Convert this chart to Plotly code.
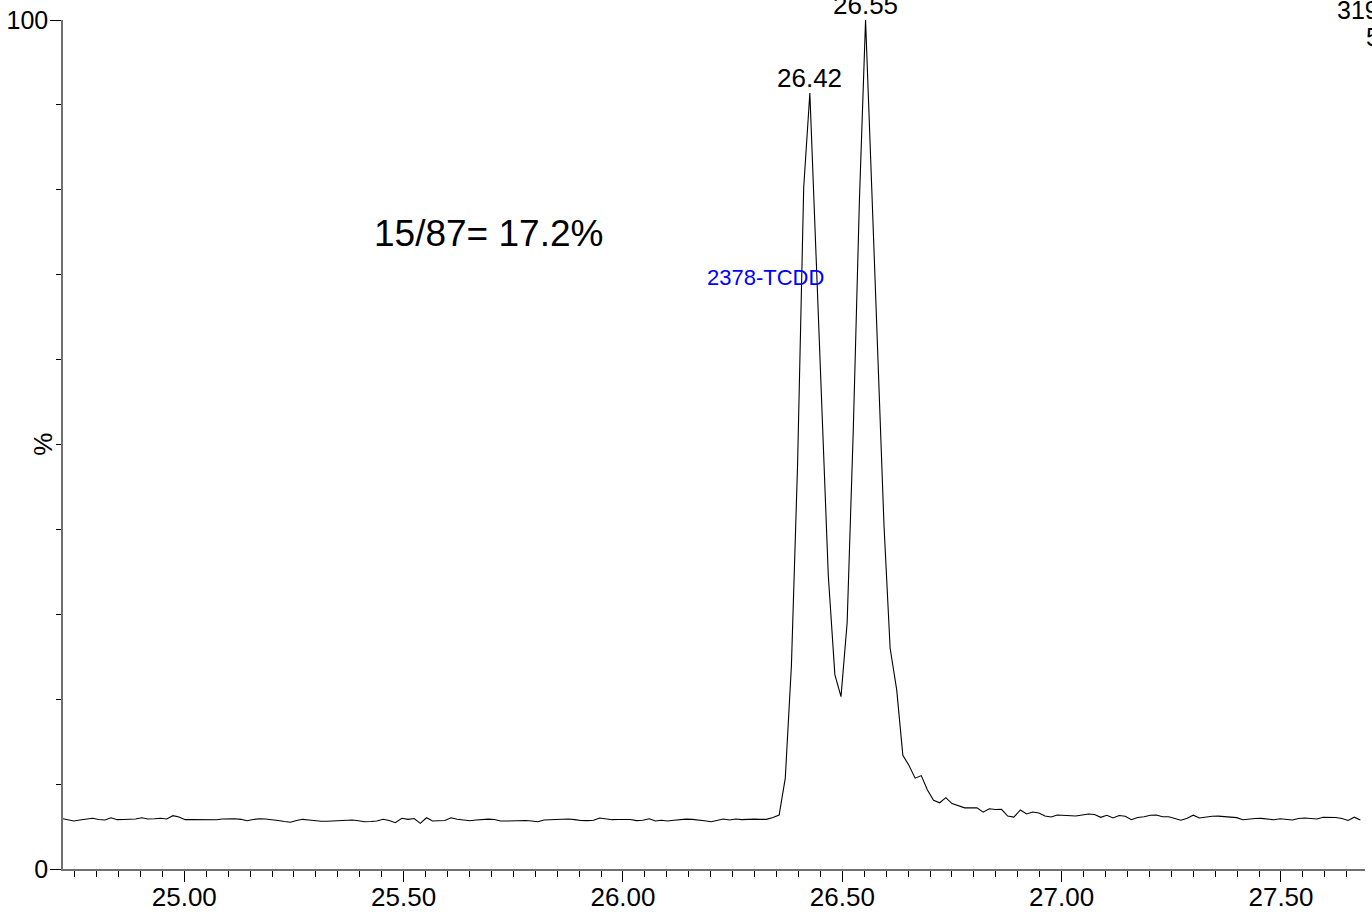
import plotly.graph_objects as go

# Retention time (min) of each scan
times = [
    24.720, 24.734, 24.748, 24.762, 24.776, 24.791, 24.805, 24.819, 24.833, 24.847,
    24.861, 24.875, 24.889, 24.903, 24.917, 24.932, 24.946, 24.960, 24.974, 24.988,
    25.002, 25.016, 25.030, 25.044, 25.058, 25.073, 25.087, 25.101, 25.115, 25.129,
    25.143, 25.157, 25.171, 25.185, 25.199, 25.214, 25.228, 25.242, 25.256, 25.270,
    25.284, 25.298, 25.312, 25.326, 25.340, 25.355, 25.369, 25.383, 25.397, 25.411,
    25.425, 25.439, 25.453, 25.467, 25.481, 25.496, 25.510, 25.524, 25.538, 25.552,
    25.566, 25.580, 25.594, 25.608, 25.622, 25.637, 25.651, 25.665, 25.679, 25.693,
    25.707, 25.721, 25.735, 25.749, 25.763, 25.778, 25.792, 25.806, 25.820, 25.834,
    25.848, 25.862, 25.876, 25.890, 25.904, 25.919, 25.933, 25.947, 25.961, 25.975,
    25.989, 26.003, 26.017, 26.031, 26.045, 26.060, 26.074, 26.088, 26.102, 26.116,
    26.130, 26.144, 26.158, 26.172, 26.186, 26.201, 26.215, 26.229, 26.243, 26.257,
    26.271, 26.285, 26.299, 26.313, 26.327, 26.342, 26.356, 26.370, 26.384, 26.398,
    26.412, 26.426, 26.440, 26.454, 26.468, 26.483, 26.497, 26.511, 26.525, 26.539,
    26.553, 26.567, 26.581, 26.595, 26.609, 26.624, 26.638, 26.652, 26.666, 26.680,
    26.694, 26.708, 26.722, 26.736, 26.750, 26.765, 26.779, 26.793, 26.807, 26.821,
    26.835, 26.849, 26.863, 26.877, 26.891, 26.906, 26.920, 26.934, 26.948, 26.962,
    26.976, 26.990, 27.004, 27.018, 27.032, 27.047, 27.061, 27.075, 27.089, 27.103,
    27.117, 27.131, 27.145, 27.159, 27.173, 27.188, 27.202, 27.216, 27.230, 27.244,
    27.258, 27.272, 27.286, 27.300, 27.314, 27.329, 27.343, 27.357, 27.371, 27.385,
    27.399, 27.413, 27.427, 27.441, 27.455, 27.470, 27.484, 27.498, 27.512, 27.526,
    27.540, 27.554, 27.568, 27.582, 27.596, 27.611, 27.625, 27.639, 27.653, 27.667,
    27.681,
]

# Relative intensity (%)
intensity = [
    5.95, 5.77, 5.65, 5.77, 5.89, 5.97, 5.83, 5.77, 6.04, 5.81,
    5.83, 5.85, 5.89, 6.04, 5.89, 5.92, 5.97, 5.89, 6.28, 6.12,
    5.81, 5.81, 5.81, 5.80, 5.77, 5.80, 5.89, 5.92, 5.92, 5.85,
    5.69, 5.83, 5.92, 5.89, 5.83, 5.71, 5.59, 5.50, 5.71, 5.85,
    5.77, 5.68, 5.62, 5.63, 5.65, 5.68, 5.71, 5.77, 5.68, 5.57,
    5.59, 5.65, 5.85, 5.71, 5.45, 5.97, 5.85, 5.95, 5.38, 6.04,
    5.65, 5.65, 5.71, 6.03, 5.85, 5.77, 5.69, 5.77, 5.83, 5.87,
    5.83, 5.65, 5.65, 5.69, 5.75, 5.71, 5.65, 5.57, 5.77, 5.80,
    5.83, 5.87, 5.89, 5.81, 5.71, 5.70, 5.74, 6.01, 5.89, 5.81,
    5.83, 5.87, 5.83, 5.70, 5.74, 5.92, 5.65, 5.74, 5.65, 5.75,
    5.84, 5.88, 5.84, 5.80, 5.69, 5.57, 5.74, 5.89, 5.77, 5.89,
    5.81, 5.88, 5.87, 5.85, 5.85, 6.07, 6.36, 10.7, 24.0, 47.6,
    80.3, 91.4, 72.9, 53.5, 34.6, 22.9, 20.3, 29.0, 51.7, 78.8,
    100.0, 80.3, 59.2, 40.5, 26.0, 21.1, 13.4, 12.2, 10.7, 11.0,
    9.3, 8.1, 7.8, 8.4, 7.7, 7.4, 7.2, 7.2, 7.2, 6.7,
    7.1, 7.01, 7.03, 6.24, 6.12, 6.95, 6.48, 6.71, 6.60, 6.24,
    6.12, 6.36, 6.33, 6.29, 6.24, 6.36, 6.48, 6.42, 6.09, 6.33,
    6.01, 6.30, 6.21, 5.80, 6.07, 6.15, 6.33, 6.36, 6.16, 6.16,
    5.95, 5.75, 5.97, 6.34, 6.01, 6.12, 6.21, 6.23, 6.16, 6.12,
    6.05, 5.80, 5.89, 5.95, 5.96, 5.85, 5.80, 5.91, 5.80, 5.77,
    5.94, 6.00, 5.95, 5.89, 6.10, 6.08, 6.07, 5.95, 5.71, 6.10,
    5.77,
]

peak_label_times = [26.426, 26.553]
peak_label_values = [91.4, 100.0]
peak_labels = ["26.42", "26.55"]

compound_name = "2378-TCDD"
ratio_text = "15/87= 17.2%"
header_lines = ["319.8965", "5.48e4"]

FONT = "Arial, Liberation Sans, sans-serif"

fig = go.Figure()
fig.add_trace(go.Scatter(
    x=times, y=intensity, mode="lines",
    line=dict(color="#000000", width=1.1),
    hoverinfo="x+y", showlegend=False,
))

annotations = []
for t, v, lab in zip(peak_label_times, peak_label_values, peak_labels):
    annotations.append(dict(
        x=t, y=v, xref="x", yref="y", text=lab, showarrow=False,
        xanchor="center", yanchor="bottom", yshift=-2,
        font=dict(family=FONT, size=26, color="#000000"),
    ))

annotations.append(dict(
    x=26.325, y=69.7, xref="x", yref="y", text=compound_name, showarrow=False,
    xanchor="center", yanchor="middle",
    font=dict(family=FONT, size=22, color="#0000FF"),
))
annotations.append(dict(
    x=25.693, y=74.9, xref="x", yref="y", text=ratio_text, showarrow=False,
    xanchor="center", yanchor="middle",
    font=dict(family=FONT, size=37, color="#000000"),
))
annotations.append(dict(
    x=-0.016, y=0.5, xref="paper", yref="paper", text="%", showarrow=False,
    textangle=-90, xanchor="center", yanchor="middle",
    font=dict(family=FONT, size=26, color="#000000"),
))
annotations.append(dict(
    x=(1335 - 63) / 1302, y=1.0, xref="paper", yref="paper", text=header_lines[0],
    showarrow=False, xanchor="left", yanchor="bottom", yshift=-6,
    font=dict(family=FONT, size=25, color="#000000"),
))
annotations.append(dict(
    x=(1364 - 63) / 1302, y=1.0, xref="paper", yref="paper", text=header_lines[1],
    showarrow=False, xanchor="left", yanchor="top", yshift=-1,
    font=dict(family=FONT, size=25, color="#000000"),
))

fig.update_layout(
    width=1372, height=916,
    margin=dict(l=63, r=7, t=20, b=47, pad=0),
    paper_bgcolor="#FFFFFF", plot_bgcolor="#FFFFFF",
    font=dict(family=FONT, size=26, color="#000000"),
    annotations=annotations,
    xaxis=dict(
        range=[24.7235, 27.6915], showgrid=False, zeroline=False,
        showline=True, linecolor="#707070", linewidth=1.5,
        ticks="outside", ticklen=11, tickwidth=1.2, tickcolor="#000000",
        tickmode="linear", tick0=25.0, dtick=0.5, tickformat=".2f",
        ticklabelstandoff=-7,
        tickfont=dict(family=FONT, size=26, color="#000000"),
        minor=dict(ticks="outside", ticklen=6, tickwidth=1.2, tickcolor="#000000",
                   tickmode="linear", tick0=25.0, dtick=0.05, showgrid=False),
        automargin=False,
    ),
    yaxis=dict(
        range=[0, 100], showgrid=False, zeroline=False,
        showline=True, linecolor="#707070", linewidth=1.5,
        ticks="outside", ticklen=11, tickwidth=1.2, tickcolor="#000000",
        tickmode="linear", tick0=0, dtick=100, ticklabelstandoff=-3,
        tickfont=dict(family=FONT, size=25, color="#000000"),
        minor=dict(ticks="outside", ticklen=5, tickwidth=1.2, tickcolor="#000000",
                   tickmode="linear", tick0=0, dtick=10, showgrid=False),
        automargin=False,
    ),
)

fig.write_html(
    "out.html",
    config={"displayModeBar": False},
    post_script="document.body.style.margin='0';document.body.style.overflow='hidden';",
)
